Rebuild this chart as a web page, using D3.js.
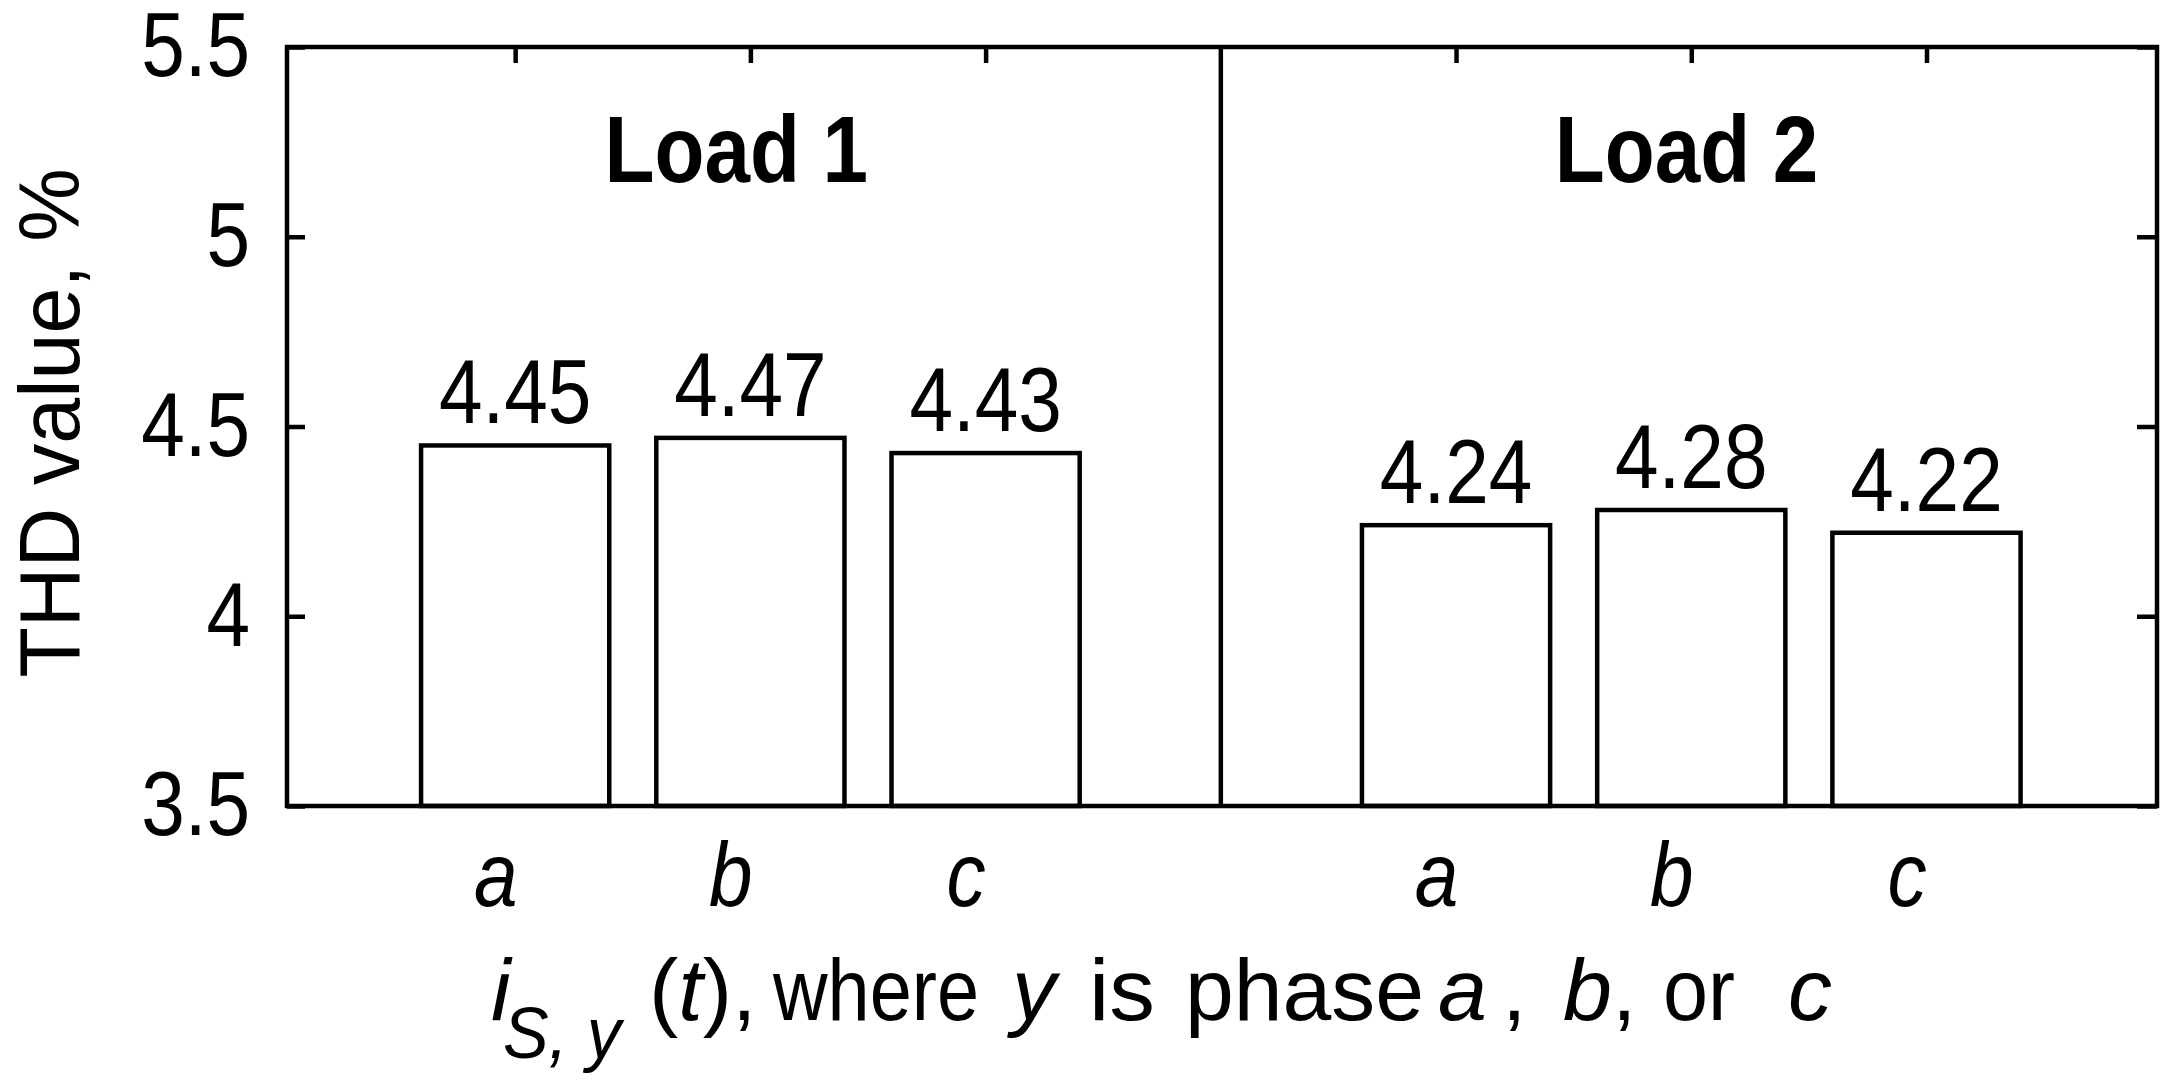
<!DOCTYPE html>
<html><head><meta charset="utf-8">
<script src="https://cdn.jsdelivr.net/npm/d3@7"></script>
<style>
html,body{margin:0;padding:0;background:#fff;}
svg{display:block;}
text{font-family:"Liberation Sans",Arial,Helvetica,sans-serif;fill:#000;}
</style></head><body>
<svg id="chart" width="2169" height="1082"></svg>
<script>
// ---- data ----
const groupTitles = ["Load 1", "Load 2"];
const groupTitlePos = [1.94, 5.98];
const phaseLabels = ["a", "b", "c", "a", "b", "c"];
const barPositions = [1, 2, 3, 5, 6, 7];
const thdValues = [4.45, 4.47, 4.43, 4.24, 4.28, 4.22];
const yTicks = [3.5, 4, 4.5, 5, 5.5];
const yTickLabels = ["3.5", "4", "4.5", "5", "5.5"];
const dividerPos = 4;
const yLabel = "THD value, %";

// ---- layout ----
const L = 287, R = 2157, T = 47, B = 806;
const SX = 0.87; // horizontal condense of the raster font
const FS = 90;

const svg = d3.select("#chart");
const x = d3.scaleLinear().domain([0.03, 7.98]).range([L, R]);
const y = d3.scaleLinear().domain([3.5, 5.5]).range([B, T]);
const barW = 0.8 * (x(1) - x(0));
const SW = 4.5;

function condense(sel, sx) {
  sel.each(function () {
    const t = d3.select(this);
    const tx = +t.attr("x") || 0, ty = +t.attr("y") || 0;
    t.attr("x", null).attr("y", null)
     .attr("transform", `translate(${tx},${ty}) scale(${sx},1)`);
  });
}

// bottom axis (ticks hidden behind bars, labels below)
const phaseByPos = new Map(barPositions.map((p, i) => [p, phaseLabels[i]]));
const gB = svg.append("g").attr("transform", `translate(0,${B})`)
  .call(d3.axisBottom(x).tickValues(barPositions).tickSize(-16).tickPadding(36)
    .tickFormat(d => phaseByPos.get(d)));
gB.select(".domain").remove();
gB.selectAll("line").attr("stroke", "#000").attr("stroke-width", SW);
gB.selectAll("text").attr("font-size", FS).attr("font-style", "italic")
  .attr("font-family", null).attr("fill", "#000").attr("x", -20);
condense(gB.selectAll("text"), SX);

// bars
svg.append("g").selectAll("rect").data(thdValues).join("rect")
  .attr("x", (d, i) => x(barPositions[i]) - barW / 2)
  .attr("y", d => y(d))
  .attr("width", barW)
  .attr("height", d => y(3.5) - y(d))
  .attr("fill", "#fff").attr("stroke", "#000").attr("stroke-width", SW);

// value labels
const vl = svg.append("g").selectAll("text").data(thdValues).join("text")
  .attr("x", (d, i) => x(barPositions[i]))
  .attr("y", d => y(d) - 22)
  .attr("text-anchor", "middle").attr("font-size", FS)
  .text(d => d3.format(".2f")(d));
condense(vl, SX);

// group titles
const gt = svg.append("g").selectAll("text").data(groupTitles).join("text")
  .attr("x", (d, i) => x(groupTitlePos[i]))
  .attr("y", 182)
  .attr("text-anchor", "middle").attr("font-size", 94).attr("font-weight", "bold")
  .text(d => d);
condense(gt, SX);

// frame and divider
svg.append("rect").attr("x", L).attr("y", T).attr("width", R - L).attr("height", B - T)
  .attr("fill", "none").attr("stroke", "#000").attr("stroke-width", SW);
svg.append("line").attr("x1", x(dividerPos)).attr("x2", x(dividerPos))
  .attr("y1", T).attr("y2", B).attr("stroke", "#000").attr("stroke-width", SW);

// top ticks
const gT = svg.append("g").attr("transform", `translate(0,${T})`)
  .call(d3.axisTop(x).tickValues(barPositions).tickSize(-16).tickFormat(""));
gT.select(".domain").remove();
gT.selectAll("line").attr("stroke", "#000").attr("stroke-width", SW);

// left axis
const gL = svg.append("g").attr("transform", `translate(${L},0)`)
  .call(d3.axisLeft(y).tickValues(yTicks).tickSize(-18).tickPadding(37)
    .tickFormat((d, i) => yTickLabels[i]));
gL.select(".domain").remove();
gL.selectAll("line").attr("stroke", "#000").attr("stroke-width", SW);
gL.selectAll("text").attr("font-size", FS).attr("font-family", null).attr("fill", "#000");
condense(gL.selectAll("text"), SX);

// right axis ticks
const gR = svg.append("g").attr("transform", `translate(${R},0)`)
  .call(d3.axisRight(y).tickValues(yTicks).tickSize(-20).tickFormat(""));
gR.select(".domain").remove();
gR.selectAll("line").attr("stroke", "#000").attr("stroke-width", SW);

// y label
svg.append("text")
  .attr("transform", `translate(79,423) rotate(-90) scale(0.96,1)`)
  .attr("text-anchor", "middle").attr("font-size", 86)
  .text(yLabel);

// x label (mixed italic/subscript)
const xl = svg.append("text").attr("font-size", 88).attr("y", 1020);
const parts = [
  {t: "i", x: 491, it: true},
  {t: "S, y", x: 503, it: true, sub: true, w: 118},
  {t: "(", x: 649},
  {t: "t", it: true},
  {t: "),"},
  {t: "where", x: 773, w: 206},
  {t: "y", x: 1012, it: true},
  {t: "is", x: 1089, w: 66},
  {t: "phase", x: 1185, w: 239},
  {t: "a", x: 1438, it: true},
  {t: ",", x: 1502},
  {t: "b", x: 1563, it: true},
  {t: ","},
  {t: "or", x: 1663, w: 72},
  {t: "c", x: 1788, it: true}
];
parts.forEach(p => {
  const ts = xl.append("tspan").text(p.t);
  if (p.x !== undefined) ts.attr("x", p.x);
  if (p.it) ts.attr("font-style", "italic");
  if (p.w) ts.attr("textLength", p.w).attr("lengthAdjust", "spacingAndGlyphs");
  if (p.sub) ts.attr("font-size", 72).attr("y", 1058);
  else ts.attr("y", 1020);
});
</script>
</body></html>
